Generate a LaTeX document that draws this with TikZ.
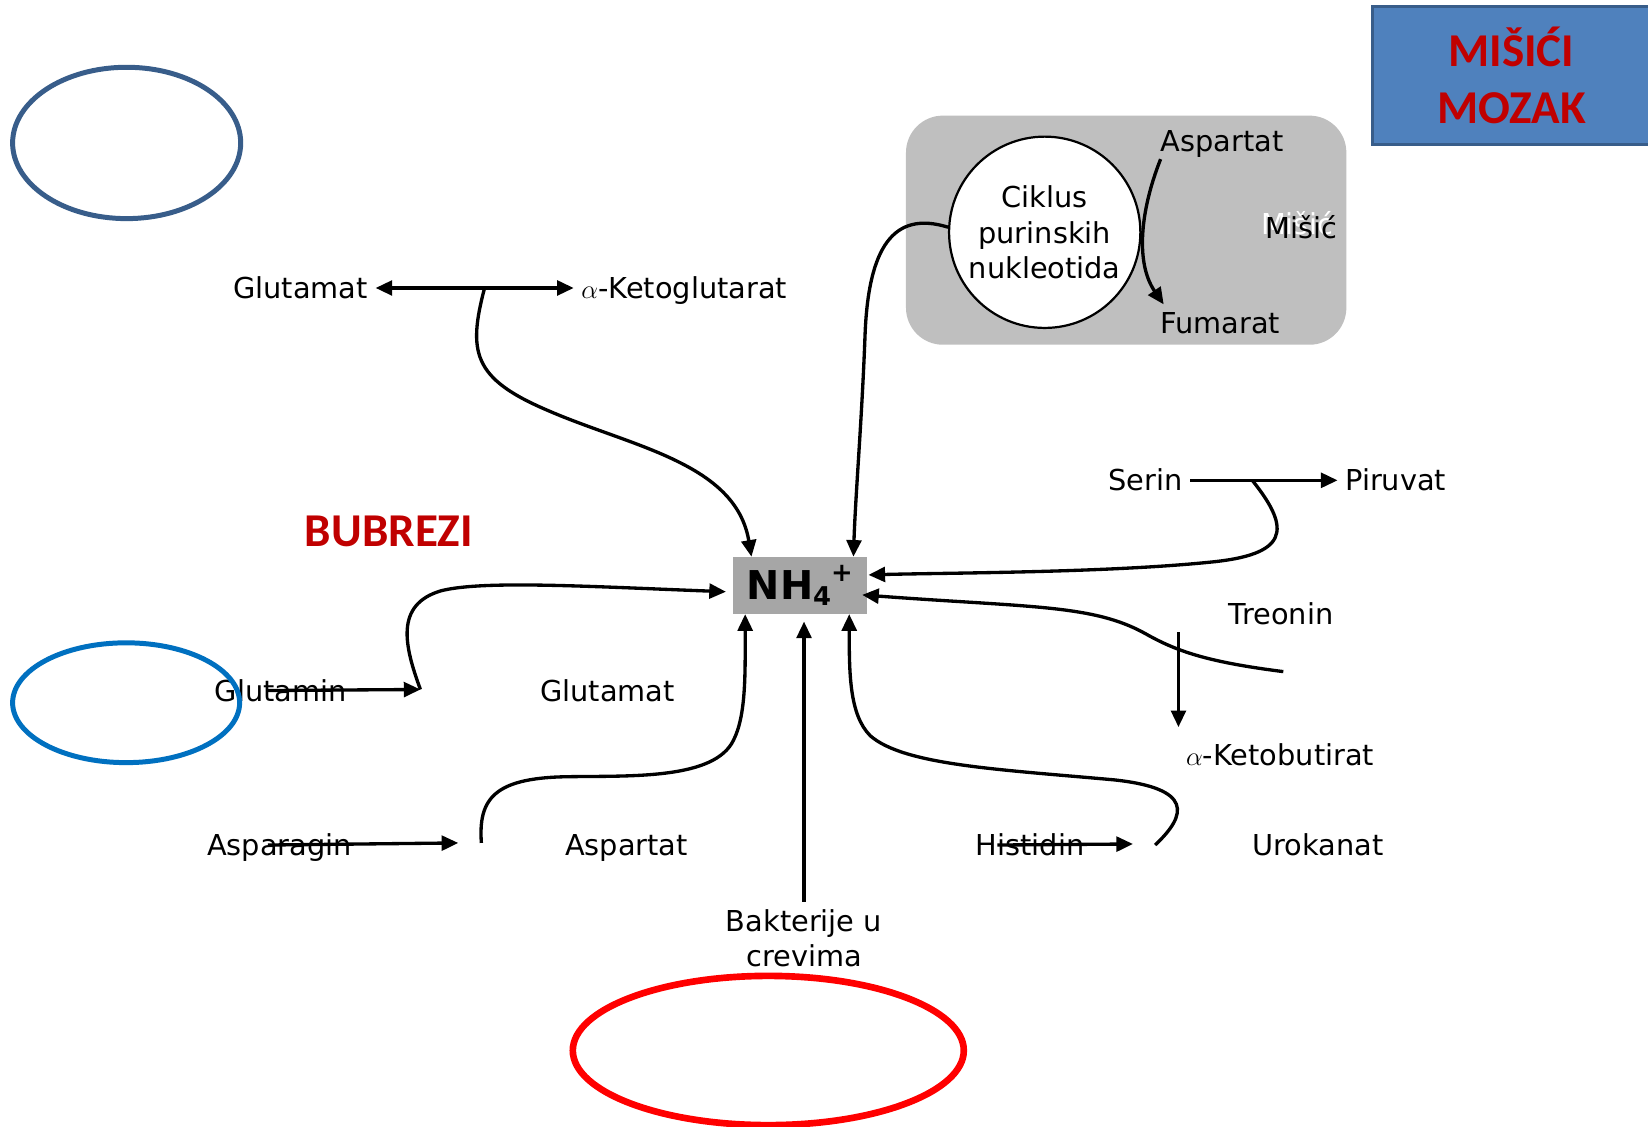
\documentclass[tikz,border=0pt]{standalone}
\usepackage{fontspec}
\setmainfont{DejaVu Sans}
\newfontfamily\organfont{Carlito}
\usetikzlibrary{
  arrows.meta,
  calc,
  positioning
}
\definecolor{organred}{HTML}{C00000}
\definecolor{boxblue}{HTML}{4F81BD}
\definecolor{boxedge}{HTML}{385D8A}
\definecolor{musclegray}{HTML}{BFBFBF}
\definecolor{ammoniagray}{HTML}{A6A6A6}
\definecolor{ringblue}{HTML}{0070C0}
\tikzset{
  >={Triangle[length=9pt,width=8pt]},
  metabolite/.style={
    font=\fontsize{15.6}{19}\selectfont,
    inner sep=4pt,
    text height=11.4pt,
    text depth=0pt
  },
  twolines/.style={
    font=\fontsize{15.6}{19}\selectfont,
    align=center,
    inner sep=4pt
  },
  organ/.style={
    font=\organfont\bfseries\fontsize{25.5}{30.7}\selectfont,
    text=organred,
    align=center
  },
  reaction/.style={
    line width=1.8pt,
    ->
  },
  tissue/.style={
    line width=2.7pt
  }
}

\begin{document}
\begin{tikzpicture}[x=0.02cm,y=-0.02cm]
  \useasboundingbox (0,0) rectangle (1568,1072);

  % muscle panel
  \fill[musclegray, rounded corners=20pt] (862,110) rectangle (1281,328);
  \node[circle, draw, fill=white, line width=1.2pt, minimum size=103.6pt,
        inner sep=0pt, align=center, font=\fontsize{15.6}{19}\selectfont]
        (purine) at (994,221) {Ciklus\\purinskih\\nukleotida};
  \node[metabolite] (asp2) at (1163,134) {Aspartat};
  \node[metabolite] (fum) at (1161,307) {Fumarat};
  \node[metabolite, text=white] (musclew) at (1234,213) {Mišić};
  \node[metabolite] (muscle) at (1238,217) {Mišić};

  \node[organ, draw=boxedge, fill=boxblue, line width=1.6pt,
        minimum width=150pt, minimum height=74.6pt] (organs) at (1438,71.5) {MIŠIĆI\\MOZAK};
  \node[organ] (kidney) at (370,506) {BUBREZI};

  \node[fill=ammoniagray, minimum width=72.8pt, minimum height=30.7pt, inner sep=0pt,
        font=\bfseries\fontsize{21.5}{21.5}\selectfont] (nh4) at (761,557)
        {NH\smash{\raisebox{-2.8pt}{\fontsize{14}{14}\selectfont 4}}\smash{\raisebox{9.8pt}{\fontsize{14}{14}\selectfont +}}};

  \node[metabolite] (glutop) at (286,274) {Glutamat};
  \node[metabolite] (akg) at (651,274) {$\alpha$-Ketoglutarat};
  \node[metabolite] (serin) at (1090,457) {Serin};
  \node[metabolite] (piruvat) at (1328,457) {Piruvat};
  \node[metabolite] (treonin) at (1219,584) {Treonin};
  \node[metabolite] (ketob) at (1218,718) {$\alpha$-Ketobutirat};
  \node[metabolite] (histidin) at (980,804) {Histidin};
  \node[metabolite] (urokanat) at (1254,804) {Urokanat};
  \node[twolines] (bakt) at (765,892.5) {Bakterije u\\crevima};
  \node[metabolite] (glutamin) at (267,657) {Glutamin};
  \node[metabolite] (glumid) at (578,657) {Glutamat};
  \node[metabolite] (asparagin) at (266,804) {Asparagin};
  \node[metabolite] (aspartat) at (596,804) {Aspartat};

  \coordinate (kgbranch) at ($(glutop.east)!0.55!(akg.west)$);
  \coordinate (serbranch) at ($(serin.east)!0.42!(piruvat.west)$);
  \coordinate (thrstart) at (1221,639);
  \coordinate (hisend) at (1078,803);
  \coordinate (urostart) at (1099,804);
  \coordinate (glnend) at (400,656);
  \coordinate (asnend) at (436,802);
  \coordinate (aspstart) at (458,802);

  % side reactions
  \draw[reaction, <->] (glutop.east) -- (glutop.east -| akg.west);
  \draw[reaction] (serin.east) -- (piruvat.west);
  \draw[reaction] (ketob.north west |- treonin.south) -- ([yshift=5pt]ketob.north west);
  \draw[reaction] ($(histidin.west)+(28,0)$) -- (hisend);
  \draw[reaction] ($(glutamin.west)+(57,0)$) -- (glnend);
  \draw[reaction] ($(asparagin.west)+(65,0)$) -- (asnend);
  \draw[reaction] ([xshift=4pt]asp2.south west) .. controls (1085,200) and (1080,250) .. ([xshift=6pt]fum.north west);

  % routes to ammonia
  \draw[reaction] (kgbranch) .. controls (445,335) and (450,360) .. (520,390)
    .. controls (600,425) and (700,440) .. ($(nh4.north)+(-46,0)$);
  \draw[reaction] (purine.177) .. controls (850,200) and (826,235) .. (823,320)
    .. controls (820,400) and (814,470) .. ($(nh4.north)+(51,0)$);
  \draw[reaction] (serbranch) .. controls (1230,505) and (1225,528) .. (1150,535)
    .. controls (1050,545) and (900,545) .. ($(nh4.east)+(1,-10)$);
  \draw[reaction] (thrstart) .. controls (1150,630) and (1120,620) .. (1090,603)
    .. controls (1040,575) and (980,578) .. ($(nh4.east)+(-5,9)$);
  \draw[reaction] (urostart) .. controls (1130,775) and (1135,750) .. (1060,742)
    .. controls (950,732) and (860,728) .. (828,700)
    .. controls (808,680) and (808,640) .. ($(nh4.south)+(47,0)$);
  \draw[reaction] (bakt.north) -- ([yshift=-4pt]bakt.north |- nh4.south);
  \draw[reaction] (aspstart) .. controls (455,760) and (470,740) .. (540,739)
    .. controls (600,738) and (680,742) .. (698,704)
    .. controls (710,680) and (709,640) .. ($(nh4.south)+(-52,0)$);
  \draw[reaction] (glnend) .. controls (385,615) and (375,575) .. (420,562)
    .. controls (460,552) and (560,558) .. ($(nh4.west)+(-6,6)$);

  % organ rings
  \draw[tissue, boxedge] (120.5,136) ellipse [x radius=108.5, y radius=72];
  \draw[tissue, ringblue] (120,668.6) ellipse [x radius=108, y radius=57];
  \draw[line width=3.6pt, red] (731,999.5) ellipse [x radius=186, y radius=71];
\end{tikzpicture}
\end{document}
